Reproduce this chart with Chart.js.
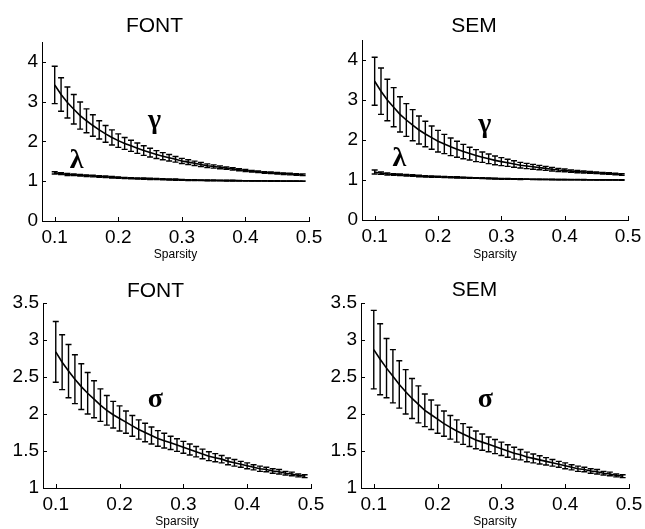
<!DOCTYPE html>
<html>
<head>
<meta charset="utf-8">
<script src="https://cdn.jsdelivr.net/npm/chart.js@4.4.1/dist/chart.umd.min.js"></script>
<style>
  html, body { margin: 0; padding: 0; background: #fff; overflow: hidden; width: 645px; height: 529px; }
  canvas { position: absolute; }
</style>
</head>
<body>
<canvas id="c1" width="329" height="262" style="left:0px;top:0px"></canvas>
<canvas id="c2" width="328" height="262" style="left:320px;top:0px"></canvas>
<canvas id="c3" width="331" height="267" style="left:0px;top:262px"></canvas>
<canvas id="c4" width="329" height="267" style="left:320px;top:262px"></canvas>
<script>
// x values (sparsity) shared by all four panels
const sparsity = [0.10, 0.11, 0.12, 0.13, 0.14, 0.15, 0.16, 0.17, 0.18, 0.19,
                  0.20, 0.21, 0.22, 0.23, 0.24, 0.25, 0.26, 0.27, 0.28, 0.29,
                  0.30, 0.31, 0.32, 0.33, 0.34, 0.35, 0.36, 0.37, 0.38, 0.39,
                  0.40, 0.41, 0.42, 0.43, 0.44, 0.45, 0.46, 0.47, 0.48, 0.49];
const xTicks = [0.1, 0.2, 0.3, 0.4, 0.5];
const yTicksTop = [0, 1, 2, 3, 4];
const yTicksBottom = [1, 1.5, 2, 2.5, 3, 3.5];

// FONT gamma / lambda
const gammaFont = [3.42, 3.18, 2.98, 2.81, 2.65, 2.52, 2.40, 2.29, 2.19, 2.10,
                   2.02, 1.95, 1.89, 1.83, 1.77, 1.72, 1.67, 1.63, 1.59, 1.55,
                   1.51, 1.48, 1.45, 1.42, 1.39, 1.37, 1.35, 1.33, 1.31, 1.29,
                   1.27, 1.25, 1.24, 1.22, 1.21, 1.20, 1.19, 1.18, 1.17, 1.16];
const gammaFontErr = [0.47, 0.42, 0.39, 0.37, 0.34, 0.30, 0.27, 0.23, 0.21, 0.19,
                      0.17, 0.15, 0.14, 0.13, 0.12, 0.11, 0.10, 0.09, 0.08, 0.07,
                      0.065, 0.06, 0.055, 0.05, 0.045, 0.04, 0.035, 0.03, 0.03, 0.025,
                      0.025, 0.02, 0.02, 0.02, 0.02, 0.02, 0.02, 0.02, 0.02, 0.02];
const lambdaFont = [1.21, 1.19, 1.17, 1.16, 1.15, 1.14, 1.13, 1.12, 1.11, 1.10,
                    1.09, 1.08, 1.075, 1.07, 1.065, 1.06, 1.055, 1.05, 1.045, 1.04,
                    1.035, 1.03, 1.028, 1.025, 1.022, 1.02, 1.018, 1.016, 1.014, 1.012,
                    1.01, 1.009, 1.008, 1.007, 1.006, 1.005, 1.004, 1.003, 1.002, 1.001];
const lambdaFontErr = [0.03, 0.025, 0.025, 0.02, 0.02, 0.02, 0.02, 0.02, 0.02, 0.02,
                       0.015, 0.015, 0.015, 0.015, 0.015, 0.015, 0.015, 0.015, 0.015, 0.015,
                       0.01, 0.01, 0.01, 0.01, 0.01, 0.01, 0.01, 0.01, 0.01, 0.01,
                       0.005, 0.005, 0.005, 0.005, 0.005, 0.005, 0.005, 0.005, 0.005, 0.005];

// SEM gamma / lambda
const gammaSem = [3.47, 3.22, 3.00, 2.82, 2.64, 2.50, 2.37, 2.25, 2.15, 2.06,
                  1.97, 1.90, 1.83, 1.77, 1.71, 1.66, 1.61, 1.57, 1.53, 1.49,
                  1.46, 1.43, 1.40, 1.37, 1.35, 1.33, 1.31, 1.29, 1.27, 1.25,
                  1.24, 1.22, 1.21, 1.20, 1.19, 1.18, 1.17, 1.16, 1.15, 1.14];
const gammaSemErr = [0.60, 0.58, 0.52, 0.49, 0.44, 0.41, 0.39, 0.35, 0.32, 0.29,
                     0.27, 0.24, 0.22, 0.20, 0.18, 0.16, 0.15, 0.13, 0.12, 0.11,
                     0.10, 0.09, 0.08, 0.07, 0.065, 0.06, 0.055, 0.05, 0.045, 0.04,
                     0.035, 0.03, 0.03, 0.025, 0.025, 0.02, 0.02, 0.02, 0.02, 0.02];
const lambdaSem = [1.20, 1.17, 1.15, 1.14, 1.13, 1.12, 1.11, 1.10, 1.09, 1.085,
                   1.08, 1.075, 1.07, 1.065, 1.06, 1.055, 1.05, 1.045, 1.04, 1.035,
                   1.03, 1.028, 1.025, 1.022, 1.02, 1.018, 1.016, 1.014, 1.012, 1.01,
                   1.009, 1.008, 1.007, 1.006, 1.005, 1.004, 1.003, 1.002, 1.001, 1.0];
const lambdaSemErr = [0.05, 0.03, 0.025, 0.02, 0.02, 0.02, 0.02, 0.02, 0.015, 0.015,
                      0.015, 0.015, 0.015, 0.015, 0.01, 0.01, 0.01, 0.01, 0.01, 0.01,
                      0.01, 0.01, 0.01, 0.01, 0.005, 0.005, 0.005, 0.005, 0.005, 0.005,
                      0.005, 0.005, 0.005, 0.005, 0.005, 0.005, 0.005, 0.005, 0.005, 0.005];

// sigma
const sigmaFont = [2.84, 2.70, 2.58, 2.47, 2.37, 2.28, 2.20, 2.12, 2.05, 1.99,
                   1.94, 1.89, 1.84, 1.79, 1.75, 1.71, 1.67, 1.64, 1.61, 1.58,
                   1.55, 1.52, 1.49, 1.46, 1.43, 1.41, 1.39, 1.36, 1.34, 1.32,
                   1.30, 1.28, 1.26, 1.25, 1.23, 1.22, 1.20, 1.19, 1.17, 1.16];
const sigmaFontErr = [0.41, 0.37, 0.36, 0.33, 0.31, 0.28, 0.25, 0.22, 0.20, 0.18,
                      0.17, 0.15, 0.14, 0.13, 0.125, 0.115, 0.105, 0.10, 0.09, 0.085,
                      0.08, 0.075, 0.07, 0.065, 0.06, 0.055, 0.05, 0.045, 0.045, 0.04,
                      0.04, 0.035, 0.035, 0.03, 0.03, 0.03, 0.025, 0.025, 0.02, 0.02];
const sigmaSem = [2.87, 2.74, 2.62, 2.51, 2.40, 2.30, 2.21, 2.13, 2.05, 1.99,
                  1.93, 1.87, 1.82, 1.77, 1.73, 1.69, 1.65, 1.62, 1.59, 1.56,
                  1.53, 1.50, 1.47, 1.45, 1.42, 1.40, 1.38, 1.36, 1.34, 1.32,
                  1.30, 1.28, 1.26, 1.25, 1.23, 1.22, 1.20, 1.19, 1.17, 1.16];
const sigmaSemErr = [0.53, 0.48, 0.40, 0.36, 0.32, 0.30, 0.27, 0.25, 0.22, 0.20,
                     0.19, 0.17, 0.16, 0.15, 0.14, 0.13, 0.12, 0.11, 0.10, 0.095,
                     0.09, 0.085, 0.08, 0.07, 0.065, 0.06, 0.055, 0.05, 0.045, 0.04,
                     0.04, 0.035, 0.035, 0.03, 0.03, 0.03, 0.025, 0.025, 0.02, 0.02];

const sansFont = '"Liberation Sans", Arial, sans-serif';
const serifFont = '"Liberation Serif", "Times New Roman", serif';

// vertical error bars with caps
const errorBars = {
    id: "errorBars",
    afterDatasetsDraw(chart) {
        const ctx = chart.ctx;
        const x = chart.scales.x, y = chart.scales.y;
        ctx.save();
        ctx.strokeStyle = "#000";
        ctx.lineWidth = 1.4;
        chart.data.datasets.forEach(ds => {
            ds.data.forEach((p, i) => {
                const e = ds.errors[i];
                const px = x.getPixelForValue(p.x);
                const top = y.getPixelForValue(p.y + e);
                const bot = y.getPixelForValue(p.y - e);
                ctx.beginPath();
                ctx.moveTo(px, top); ctx.lineTo(px, bot);
                ctx.moveTo(px - 3, top); ctx.lineTo(px + 3, top);
                ctx.moveTo(px - 3, bot); ctx.lineTo(px + 3, bot);
                ctx.stroke();
            });
        });
        ctx.restore();
    }
};

// matlab style ticks pointing into the plot
const innerTicks = {
    id: "innerTicks",
    afterDraw(chart) {
        const ctx = chart.ctx, area = chart.chartArea;
        const x = chart.scales.x, y = chart.scales.y;
        ctx.save();
        ctx.strokeStyle = "#000";
        ctx.lineWidth = 1;
        ctx.beginPath();
        x.ticks.forEach(t => {
            const px = Math.round(x.getPixelForValue(t.value)) + 0.5;
            ctx.moveTo(px, area.bottom); ctx.lineTo(px, area.bottom - 4);
        });
        y.ticks.forEach(t => {
            const py = Math.round(y.getPixelForValue(t.value)) + 0.5;
            ctx.moveTo(area.left, py); ctx.lineTo(area.left + 4, py);
        });
        ctx.stroke();
        ctx.restore();
    }
};

// greek symbol labels next to the curves
const greekLabels = {
    id: "greekLabels",
    afterDraw(chart, args, opts) {
        const ctx = chart.ctx;
        const x = chart.scales.x, y = chart.scales.y;
        ctx.save();
        ctx.fillStyle = "#000";
        ctx.font = "bold 28px " + serifFont;
        ctx.textAlign = "center";
        ctx.textBaseline = "alphabetic";
        (opts.items || []).forEach(it => {
            ctx.fillText(it.text, x.getPixelForValue(it.x), y.getPixelForValue(it.y));
        });
        ctx.restore();
    }
};

function makePanel(id, title, yMin, yMax, yTicks, series, labels, box) {
    const ctx = document.getElementById(id).getContext("2d");
    return new Chart(ctx, {
        type: "line",
        data: {
            datasets: series.map(s => ({
                data: sparsity.map((v, i) => ({ x: v, y: s.mean[i] })),
                errors: s.err,
                borderColor: "#000",
                borderWidth: 1.6,
                pointRadius: 0,
                tension: 0,
                fill: false
            }))
        },
        options: {
            responsive: false,
            animation: false,
            layout: { padding: { left: 0, right: 20, top: 0, bottom: 0 } },
            plugins: {
                legend: { display: false },
                tooltip: { enabled: false },
                title: {
                    display: true,
                    text: title,
                    color: "#000",
                    font: { family: sansFont, size: 21, weight: "normal", lineHeight: 1 },
                    padding: { top: box.pt, bottom: box.pb }
                },
                greekLabels: { items: labels }
            },
            scales: {
                x: {
                    type: "linear",
                    min: 0.08,
                    max: 0.5,
                    afterBuildTicks: s => { s.ticks = xTicks.map(v => ({ value: v })); },
                    afterFit: s => { s.height = box.xh; },
                    grid: { display: false, drawTicks: false, tickLength: 0 },
                    border: { display: true, color: "#000", width: 1 },
                    ticks: {
                        color: "#000",
                        padding: 5,
                        maxRotation: 0,
                        font: { family: sansFont, size: 19 },
                        callback: v => String(v)
                    },
                    title: {
                        display: true,
                        text: "Sparsity",
                        color: "#000",
                        font: { family: sansFont, size: 12 },
                        padding: { top: 0, bottom: 0 }
                    }
                },
                y: {
                    type: "linear",
                    min: yMin,
                    max: yMax,
                    afterBuildTicks: s => { s.ticks = yTicks.map(v => ({ value: v })); },
                    afterFit: s => { s.width = box.yw; },
                    grid: { display: false, drawTicks: false, tickLength: 0 },
                    border: { display: true, color: "#000", width: 1 },
                    ticks: {
                        color: "#000",
                        padding: 4,
                        font: { family: sansFont, size: 19 },
                        callback: v => String(v)
                    }
                }
            }
        },
        plugins: [errorBars, innerTicks, greekLabels]
    });
}

makePanel("c1", "FONT", 0, 4.5, yTicksTop,
    [{ mean: gammaFont, err: gammaFontErr }, { mean: lambdaFont, err: lambdaFontErr }],
    [{ text: "γ", x: 0.257, y: 2.34 }, { text: "λ", x: 0.1345, y: 1.34 }],
    { pt: 16, pb: 5, xh: 41, yw: 42 });

makePanel("c2", "SEM", 0, 4.5, yTicksTop,
    [{ mean: gammaSem, err: gammaSemErr }, { mean: lambdaSem, err: lambdaSemErr }],
    [{ text: "γ", x: 0.274, y: 2.2 }, { text: "λ", x: 0.139, y: 1.36 }],
    { pt: 16, pb: 3, xh: 42, yw: 42 });

makePanel("c3", "FONT", 1, 3.5, yTicksBottom,
    [{ mean: sigmaFont, err: sigmaFontErr }],
    [{ text: "σ", x: 0.256, y: 2.10 }],
    { pt: 18.5, pb: 1.5, xh: 41, yw: 43 });

makePanel("c4", "SEM", 1, 3.5, yTicksBottom,
    [{ mean: sigmaSem, err: sigmaSemErr }],
    [{ text: "σ", x: 0.275, y: 2.09 }],
    { pt: 18, pb: 2, xh: 41, yw: 41 });
</script>
</body>
</html>
